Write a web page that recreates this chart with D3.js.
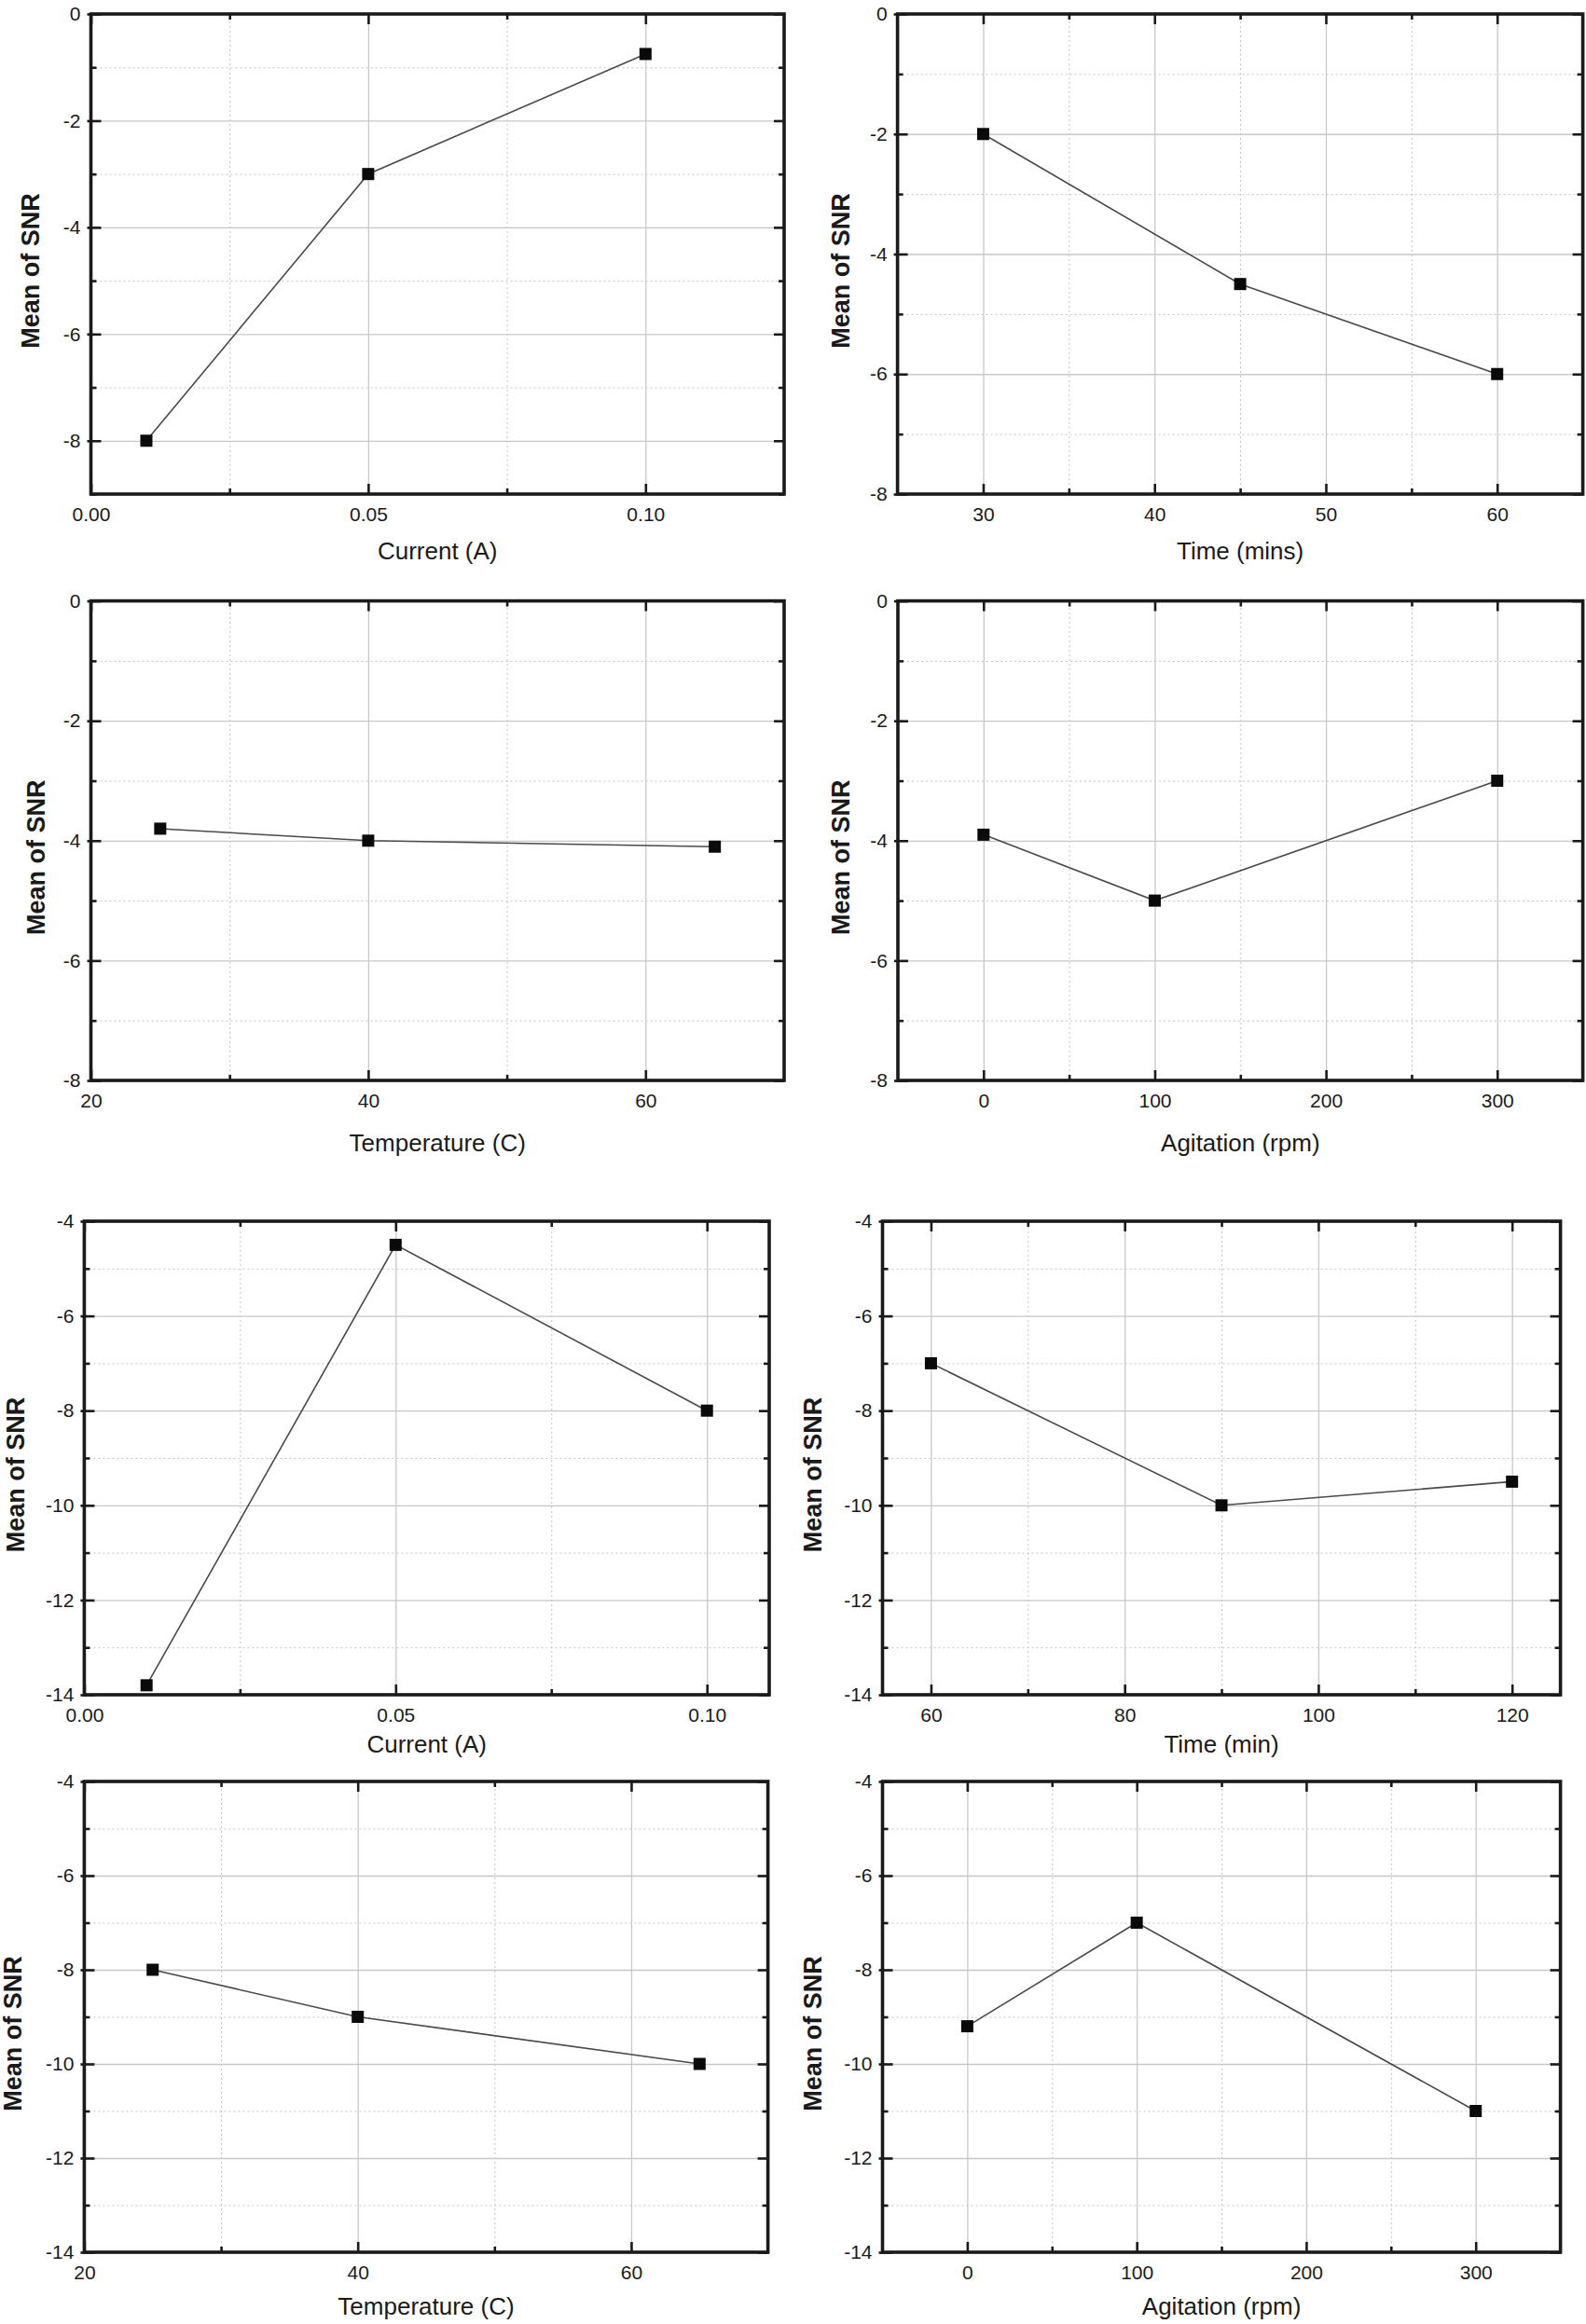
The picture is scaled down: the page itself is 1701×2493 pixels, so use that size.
<!DOCTYPE html>
<html>
<head>
<meta charset="utf-8">
<script src="https://cdn.jsdelivr.net/npm/d3@7"></script>
<style>
  html, body { margin: 0; padding: 0; background: #fff; }
  svg text { font-family: "Liberation Sans", Arial, Helvetica, sans-serif; fill: #1a1a1a; }
</style>
</head>
<body>
<svg id="chart" width="1701" height="2493"></svg>
<script>
// ---------- data ----------
const yLabel = "Mean of SNR";

const currentA = [0.01, 0.05, 0.10];
const snrCurrentA = [-8, -3, -0.75];
const timeA = [30, 45, 60];
const snrTimeA = [-2, -4.5, -6];
const tempA = [25, 40, 65];
const snrTempA = [-3.8, -4, -4.1];
const agitA = [0, 100, 300];
const snrAgitA = [-3.9, -5, -3];

const currentB = [0.01, 0.05, 0.10];
const snrCurrentB = [-13.8, -4.5, -8];
const timeB = [60, 90, 120];
const snrTimeB = [-7, -10, -9.5];
const tempB = [25, 40, 65];
const snrTempB = [-8, -9, -10];
const agitB = [0, 100, 300];
const snrAgitB = [-9.2, -7, -11];

// tick values / labels
const currentTicks = [0, 0.05, 0.10];
const currentTickLabels = ["0.00", "0.05", "0.10"];
const currentMinor = [0.025, 0.075];
const timeATicks = [30, 40, 50, 60];
const timeAMinor = [35, 45, 55];
const tempTicks = [20, 40, 60];
const tempMinor = [30, 50];
const agitTicks = [0, 100, 200, 300];
const agitMinor = [50, 150, 250];
const timeBTicks = [60, 80, 100, 120];
const timeBMinor = [70, 90, 110];

const yTicksA = [0, -2, -4, -6, -8];
const yMinorA = [-1, -3, -5, -7];
const yTicksB = [-4, -6, -8, -10, -12, -14];
const yMinorB = [-5, -7, -9, -11, -13];

const xTitles = ["Current (A)", "Time (mins)", "Temperature (C)", "Agitation (rpm)",
                 "Current (A)", "Time (min)", "Temperature (C)", "Agitation (rpm)"];

// ---------- panel layout ----------
const panels = [
  { x: currentA, y: snrCurrentA, title: xTitles[0], box: [97.5, 15, 841, 530], xd: [0, 0.125], yd: [-9, 0],
    xt: currentTicks, xl: currentTickLabels, xm: currentMinor, yt: yTicksA, ym: yMinorA.concat([-9]), titleDy: 70, ylx: 33 },
  { x: timeA, y: snrTimeA, title: xTitles[1], box: [962.6, 15, 1697.6, 530], xd: [25, 65], yd: [-8, 0],
    xt: timeATicks, xl: null, xm: timeAMinor, yt: yTicksA, ym: yMinorA, titleDy: 70, ylx: 902 },
  { x: tempA, y: snrTempA, title: xTitles[2], box: [97.5, 644.6, 841, 1159], xd: [20, 70], yd: [-8, 0],
    xt: tempTicks, xl: null, xm: tempMinor, yt: yTicksA, ym: yMinorA, titleDy: 76, ylx: 39 },
  { x: agitA, y: snrAgitA, title: xTitles[3], box: [963, 644.6, 1697.6, 1159], xd: [-50, 350], yd: [-8, 0],
    xt: agitTicks, xl: null, xm: agitMinor, yt: yTicksA, ym: yMinorA, titleDy: 76, ylx: 902 },
  { x: currentB, y: snrCurrentB, title: xTitles[4], box: [90.4, 1310, 825, 1818], xd: [0, 0.11], yd: [-14, -4],
    xt: currentTicks, xl: currentTickLabels, xm: currentMinor, yt: yTicksB, ym: yMinorB, titleDy: 62, ylx: 17 },
  { x: timeB, y: snrTimeB, title: xTitles[5], box: [946.5, 1310, 1673.6, 1818], xd: [55, 125], yd: [-14, -4],
    xt: timeBTicks, xl: null, xm: timeBMinor, yt: yTicksB, ym: yMinorB, titleDy: 62, ylx: 872 },
  { x: tempB, y: snrTempB, title: xTitles[6], box: [90.4, 1911, 823.6, 2416], xd: [20, 70], yd: [-14, -4],
    xt: tempTicks, xl: null, xm: tempMinor, yt: yTicksB, ym: yMinorB, titleDy: 67, ylx: 14 },
  { x: agitB, y: snrAgitB, title: xTitles[7], box: [946.5, 1911, 1673.6, 2416], xd: [-50, 350], yd: [-14, -4],
    xt: agitTicks, xl: null, xm: agitMinor, yt: yTicksB, ym: yMinorB, titleDy: 67, ylx: 872 }
];

const svg = d3.select("#chart");
const plainNum = d => String(d);   // ASCII hyphen for negatives, as in the reference

panels.forEach(p => {
  const [x0, y0, x1, y1] = p.box;
  const w = x1 - x0, h = y1 - y0;
  const xs = d3.scaleLinear().domain(p.xd).range([0, w]);
  const ys = d3.scaleLinear().domain(p.yd).range([h, 0]);
  const g = svg.append("g").attr("transform", `translate(${x0},${y0})`);

  // grid: minor dotted
  g.append("g").attr("class", "gridminor").attr("transform", `translate(0,${h})`)
    .call(d3.axisBottom(xs).tickValues(p.xm).tickSize(-h).tickFormat(""))
    .call(a => a.select(".domain").remove());
  g.append("g").attr("class", "gridminor")
    .call(d3.axisLeft(ys).tickValues(p.ym.filter(v => v > p.yd[0] && v < p.yd[1])).tickSize(-w).tickFormat(""))
    .call(a => a.select(".domain").remove());
  g.selectAll(".gridminor line").attr("stroke", "#c4c4c4").attr("stroke-width", 1).attr("stroke-dasharray", "2,3");

  // grid: major solid
  g.append("g").attr("class", "gridmajor").attr("transform", `translate(0,${h})`)
    .call(d3.axisBottom(xs).tickValues(p.xt.filter(v => v > p.xd[0] && v < p.xd[1])).tickSize(-h).tickFormat(""))
    .call(a => a.select(".domain").remove());
  g.append("g").attr("class", "gridmajor")
    .call(d3.axisLeft(ys).tickValues(p.yt.filter(v => v > p.yd[0] && v < p.yd[1])).tickSize(-w).tickFormat(""))
    .call(a => a.select(".domain").remove());
  g.selectAll(".gridmajor line").attr("stroke", "#c8c8c8").attr("stroke-width", 1.3);

  // data line
  const pts = p.x.map((v, i) => [v, p.y[i]]);
  g.append("path").datum(pts)
    .attr("fill", "none").attr("stroke", "#4a4a4a").attr("stroke-width", 1.6)
    .attr("d", d3.line().x(d => xs(d[0])).y(d => ys(d[1])));
  g.selectAll("rect.mk").data(pts).enter().append("rect").attr("class", "mk")
    .attr("x", d => xs(d[0]) - 6.5).attr("y", d => ys(d[1]) - 6.5)
    .attr("width", 13).attr("height", 13).attr("fill", "#0a0a0a");

  // axes: bottom (labels + inward major ticks)
  const fmtX = p.xl ? (d => p.xl[p.xt.indexOf(d)]) : plainNum;
  const bottom = g.append("g").attr("transform", `translate(0,${h})`)
    .call(d3.axisBottom(xs).tickValues(p.xt).tickSizeInner(-11).tickSizeOuter(0).tickPadding(14).tickFormat(fmtX));
  const left = g.append("g")
    .call(d3.axisLeft(ys).tickValues(p.yt).tickSizeInner(-11).tickSizeOuter(0).tickPadding(11).tickFormat(plainNum));
  const top = g.append("g")
    .call(d3.axisTop(xs).tickValues(p.xt).tickSizeInner(-11).tickSizeOuter(0).tickFormat(""));
  const right = g.append("g").attr("transform", `translate(${w},0)`)
    .call(d3.axisRight(ys).tickValues(p.yt).tickSizeInner(-11).tickSizeOuter(0).tickFormat(""));
  // minor inward ticks
  const mb = g.append("g").attr("transform", `translate(0,${h})`)
    .call(d3.axisBottom(xs).tickValues(p.xm).tickSizeInner(-6).tickSizeOuter(0).tickFormat(""));
  const mt = g.append("g")
    .call(d3.axisTop(xs).tickValues(p.xm).tickSizeInner(-6).tickSizeOuter(0).tickFormat(""));
  const ml = g.append("g")
    .call(d3.axisLeft(ys).tickValues(p.ym).tickSizeInner(-6).tickSizeOuter(0).tickFormat(""));
  const mr = g.append("g").attr("transform", `translate(${w},0)`)
    .call(d3.axisRight(ys).tickValues(p.ym).tickSizeInner(-6).tickSizeOuter(0).tickFormat(""));
  [bottom, left, top, right, mb, mt, ml, mr].forEach(a => {
    a.select(".domain").remove();
    a.selectAll("line").attr("stroke", "#1a1a1a").attr("stroke-width", 2.6);
    a.selectAll("text").attr("font-size", 21).attr("fill", "#1a1a1a")
      .attr("font-family", "'Liberation Sans', Arial, sans-serif");
  });
  // left ticks also poke slightly outward
  left.selectAll(".tick line").attr("x1", -4);

  // frame
  g.append("rect").attr("x", 0).attr("y", 0).attr("width", w).attr("height", h)
    .attr("fill", "none").attr("stroke", "#1a1a1a").attr("stroke-width", 3.6);

  // titles
  g.append("text").attr("x", w / 2).attr("y", h + p.titleDy)
    .attr("text-anchor", "middle").attr("font-size", 26).text(p.title);
  svg.append("text")
    .attr("transform", `translate(${p.ylx},${y0 + h / 2 + 18}) rotate(-90)`)
    .attr("text-anchor", "middle").attr("dominant-baseline", "central")
    .attr("font-size", 27).attr("font-weight", "bold").text(yLabel);
});
</script>
</body>
</html>
